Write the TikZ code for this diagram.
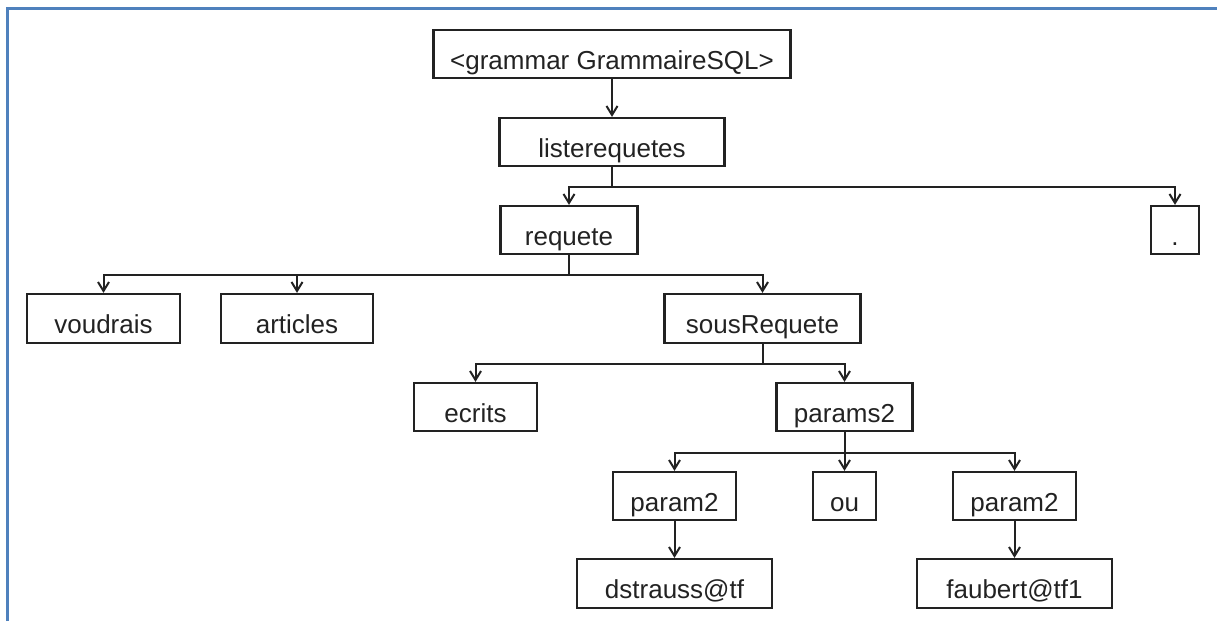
\documentclass[tikz,border=0pt]{standalone}
\usepackage{fontspec}
\setmainfont{Liberation Sans}
\usetikzlibrary{arrows.meta}
\definecolor{frameblue}{HTML}{4F81BD}
\definecolor{ink}{HTML}{222222}
\begin{document}
\begin{tikzpicture}[x=1pt,y=-1pt,
  box/.style={draw=ink, line width=2.2pt, inner sep=0pt, minimum height=48pt,
    text height=30pt, text depth=0pt, font=\fontsize{26}{30}\selectfont, text=ink},
  edge/.style={draw=ink, line width=2pt, -{Straight Barb[length=9pt,width=11pt,line width=2pt]}},
  frameline/.style={draw=frameblue, line width=3pt}]
\useasboundingbox (0,0) rectangle (1217,621);
\draw[frameline] (7,621) -- (7,8) -- (1217,8);

\node[box, minimum width=357pt] (g) at (612,54) {<grammar GrammaireSQL>};
\node[box, minimum width=225pt] (l) at (612,142) {listerequetes};
\node[box, minimum width=137pt] (r) at (569,230) {requete};
\node[box, minimum width=48pt] (dot) at (1175,230) {.};
\node[box, minimum width=153pt, minimum height=49pt] (v) at (103.5,318.5) {voudrais};
\node[box, minimum width=152pt, minimum height=49pt] (a) at (297,318.5) {articles};
\node[box, minimum width=196pt, minimum height=49pt] (s) at (762.5,318.5) {sousRequete};
\node[box, minimum width=123pt] (e) at (475.5,407) {ecrits};
\node[box, minimum width=136pt] (p) at (844.5,407) {params2};
\node[box, minimum width=123pt] (pa) at (674.5,496) {param2};
\node[box, minimum width=63pt] (ou) at (844.5,496) {ou};
\node[box, minimum width=123pt] (pb) at (1014.5,496) {param2};
\node[box, minimum width=195pt, minimum height=49pt] (ds) at (674.5,583.5) {dstrauss@tf};
\node[box, minimum width=195pt, minimum height=49pt] (fa) at (1014.5,583.5) {faubert@tf1};

\draw[edge] (g.south) -- (l.north);
\draw[edge] (l.south) -- ++(0,20) -| (r.north);
\draw[edge] (l.south) -- ++(0,20) -| (dot.north);
\draw[edge] (r.south) -- ++(0,20) -| (v.north);
\draw[edge] (r.south) -- ++(0,20) -| (a.north);
\draw[edge] (r.south) -- ++(0,20) -| (s.north);
\draw[edge] (s.south) -- ++(0,20) -| (e.north);
\draw[edge] (s.south) -- ++(0,20) -| (p.north);
\draw[edge] (p.south) -- ++(0,21) -| (pa.north);
\draw[edge] (p.south) -- (ou.north);
\draw[edge] (p.south) -- ++(0,21) -| (pb.north);
\draw[edge] (pa.south) -- (ds.north);
\draw[edge] (pb.south) -- (fa.north);
\end{tikzpicture}
\end{document}
